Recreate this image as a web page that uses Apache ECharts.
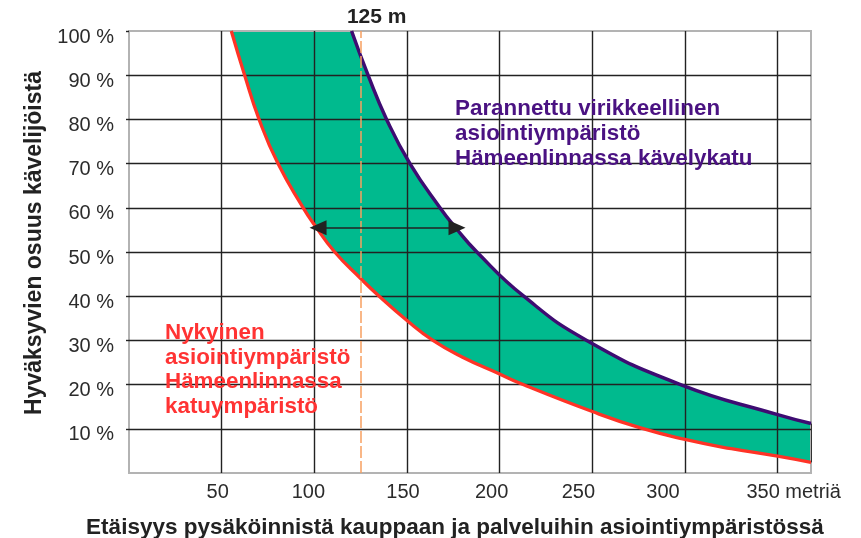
<!DOCTYPE html>
<html>
<head>
<meta charset="utf-8">
<script src="https://cdn.jsdelivr.net/npm/echarts@6/dist/echarts.min.js"></script>
<style>
    html, body { margin: 0; padding: 0; background: #fff; }
    #chart { width: 861px; height: 538px; }
</style>
</head>
<body>
<div id="chart"></div>
<script>
// values: distance (m) -> share of pedestrians (%)
var nykyinenX   = [55.2, 62.4, 70.2, 80.4, 94, 100, 111, 125, 135, 150, 164, 180, 200, 211, 250, 276, 300, 325, 350, 368];
var nykyinenY   = [100, 90, 80, 70, 60, 56.2, 50, 44, 40, 34.5, 30, 26.2, 22.4, 20.3, 13.9, 10.2, 7.6, 5.5, 3.8, 2.4];
var parannettuX = [120.1, 129, 139, 151.6, 167.8, 176, 187.7, 213, 247, 297.6, 350, 368];
var parannettuY = [100, 90, 80, 70, 60, 55.6, 50, 40, 30, 20, 13.2, 11.2];
var xTicks = [50, 100, 150, 200, 250, 300, 350];
var yTicks = [10, 20, 30, 40, 50, 60, 70, 80, 90, 100];
var rajaMetria = 125;
var nuoli = [[102, 55.5], [177, 55.5]];

var FONT = '"Liberation Sans", Arial, sans-serif';
var GREEN = '#00BA8E';
var SMOOTH = 0.5;
var chart = echarts.init(document.getElementById('chart'));

function pairs(xs, ys) {
    return xs.map(function (x, i) { return [x, ys[i]]; });
}
var red = pairs(nykyinenX, nykyinenY);
var purple = pairs(parannettuX, parannettuY);
var rl = red.length - 1, pl = purple.length - 1;
// green band: fill the whole strip, then blank out above the purple and below the red curve
var strip = [[nykyinenX[0] + 0.6, 100], [nykyinenX[rl], 100]];

// small nudges so tick labels sit like in the original
var shift = {50: -4, 100: -6, 150: -4, 200: -8, 250: -14, 300: -22, 350: 16};
var rich = {};
xTicks.forEach(function (v) {
    var s = shift[v] || 0;
    rich['t' + v] = {
        fontSize: 20, fontFamily: FONT, color: '#2b2b2b',
        padding: s >= 0 ? [0, 0, 0, 2 * s] : [0, -2 * s, 0, 0]
    };
});

function areaSeries(name, data, color, origin, smooth) {
    return {
        name: name, type: 'line', data: data, smooth: smooth,
        symbol: 'none', silent: true, z: 1,
        lineStyle: { width: 0, opacity: 0 },
        areaStyle: { color: color, opacity: 1, origin: origin }
    };
}

var option = {
    animation: false,
    grid: {
        left: 129, right: 50, top: 31, bottom: 65, z: 2,
        outerBoundsMode: 'none',
        show: true, borderColor: '#b3b3b3', borderWidth: 2
    },
    xAxis: {
        type: 'value', min: 0, max: 368, interval: 50, z: 2,
        name: 'Etäisyys pysäköinnistä kauppaan ja palveluihin asiointiympäristössä',
        nameLocation: 'middle', nameGap: 43,
        nameTextStyle: { fontSize: 22.5, fontWeight: 'bold', fontFamily: FONT, color: '#222', padding: [0, 30, 0, 0] },
        axisLine: { show: false },
        axisTick: { show: false },
        axisLabel: {
            showMinLabel: false, showMaxLabel: false, margin: 9,
            formatter: function (v) {
                if (xTicks.indexOf(v) < 0) return '';
                return '{t' + v + '|' + (v === 350 ? '350 metriä' : v) + '}';
            },
            rich: rich
        },
        splitLine: { show: true, showMinLine: false, showMaxLine: false, lineStyle: { color: '#222', width: 1.4 } }
    },
    yAxis: {
        type: 'value', min: 0, max: 100, interval: 10, z: 2,
        name: 'Hyväksyvien osuus kävelijöistä',
        nameLocation: 'middle', nameGap: 81,
        nameTextStyle: { fontSize: 23, fontWeight: 'bold', fontFamily: FONT, color: '#222', padding: [0, 0, 0, 18] },
        axisLine: { show: false },
        axisTick: { show: true, length: 3, lineStyle: { color: '#222', width: 1.4 } },
        axisLabel: {
            showMinLabel: false, margin: 15,
            fontSize: 20, fontFamily: FONT, color: '#2b2b2b',
            verticalAlign: 'top', lineHeight: 12,
            formatter: function (v) { return yTicks.indexOf(v) < 0 ? '' : v + ' %'; }
        },
        splitLine: { show: true, showMinLine: false, showMaxLine: false, lineStyle: { color: '#222', width: 1.4 } }
    },
    series: [
        areaSeries('kaista', strip, GREEN, 'start', false),
        areaSeries('yla', purple, '#ffffff', 'end', SMOOTH),
        areaSeries('ala', red, '#ffffff', 'start', SMOOTH),
        {
            name: 'Nykyinen', type: 'line', data: red,
            smooth: SMOOTH, symbol: 'none', z: 3,
            lineStyle: { color: '#FF3326', width: 3.3 },
            markLine: {
                silent: true, symbol: ['none', 'none'],
                lineStyle: { color: '#F7A060', width: 1.5, type: [12, 3] },
                label: {
                    show: true, position: 'end', offset: [16, 2],
                    formatter: rajaMetria + ' m',
                    fontSize: 21, fontWeight: 'bold', fontFamily: FONT, color: '#222'
                },
                data: [{ xAxis: rajaMetria }]
            }
        },
        {
            name: 'Parannettu', type: 'line', data: purple,
            smooth: SMOOTH, symbol: 'none', z: 3,
            lineStyle: { color: '#3E0C72', width: 3.5 },
            markLine: {
                silent: true, label: { show: false },
                data: [
                    [
                        { coord: nuoli[0], symbol: 'triangle', symbolSize: [15, 17], lineStyle: { color: '#222', width: 1.6, type: 'solid' } },
                        { coord: nuoli[1], symbol: 'triangle', symbolSize: [15, 17] }
                    ],
                    [
                        { coord: red[rl], symbol: 'none', lineStyle: { color: '#333', width: 1, type: 'solid' } },
                        { coord: purple[pl], symbol: 'none' }
                    ]
                ],
                itemStyle: { color: '#222' }
            }
        }
    ],
    graphic: [
        {
            type: 'text', left: 455, top: 96, z: 10,
            style: {
                text: 'Parannettu virikkeellinen\nasiointiympäristö\nHämeenlinnassa kävelykatu',
                font: 'bold 22.4px ' + FONT, fill: '#4A1282', lineHeight: 25
            }
        },
        {
            type: 'text', left: 165, top: 321, z: 10,
            style: {
                text: 'Nykyinen\nasiointiympäristö\nHämeenlinnassa\nkatuympäristö',
                font: 'bold 22.4px ' + FONT, fill: '#FF3333', lineHeight: 24.5
            }
        }
    ]
};
chart.setOption(option);
</script>
</body>
</html>
